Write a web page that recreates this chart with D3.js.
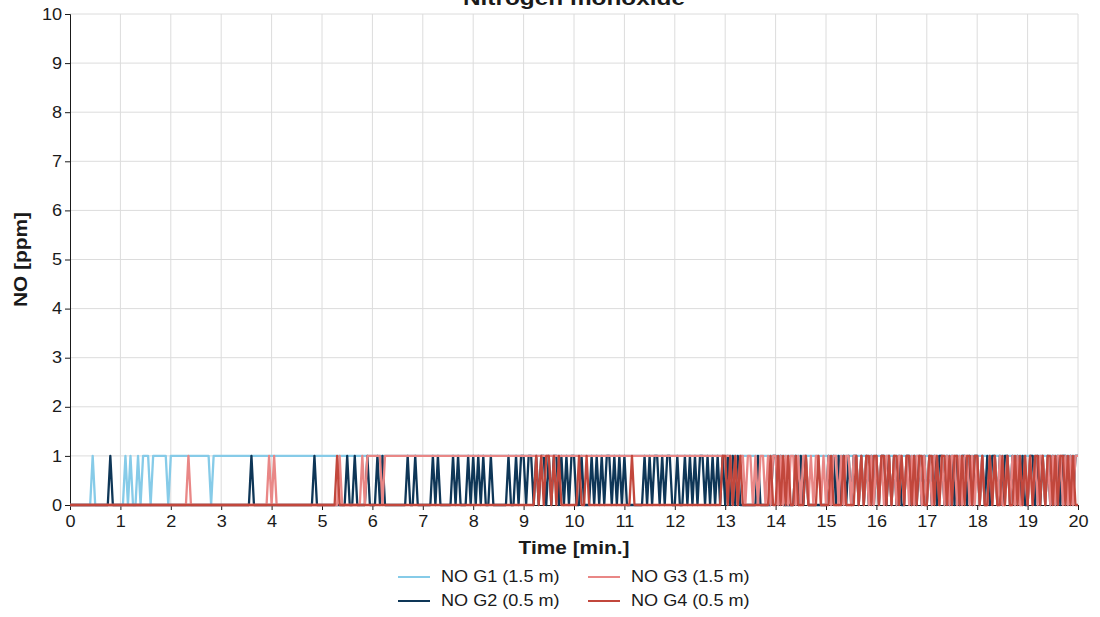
<!DOCTYPE html>
<html><head><meta charset="utf-8">
<script src="https://cdn.jsdelivr.net/npm/d3@7"></script>
<style>
body{margin:0;background:#fff;}
svg{display:block;font-family:"Liberation Sans",Arial,sans-serif;}
</style>
</head><body>
<svg id="chart" width="1100" height="617"></svg>
<script>
// ---- data ----
const chartTitle = "Nitrogen monoxide";
const xTitle = "Time [min.]";
const yTitle = "NO [ppm]";
const xTickValues = [0,1,2,3,4,5,6,7,8,9,10,11,12,13,14,15,16,17,18,19,20];
const yTickValues = [0,1,2,3,4,5,6,7,8,9,10];
const sampleStep = 0.05; // minutes between readings
const seriesNames = ["NO G1 (1.5 m)", "NO G2 (0.5 m)", "NO G3 (1.5 m)", "NO G4 (0.5 m)"];
const seriesColors = ["#86cbe8", "#0e3657", "#e98786", "#c2473c"];

// readings per minute (20 per minute), values in ppm
const noG1 = [
"00000000010000000000","00101001011101111110","11111111111111110111","11111111111111111111",
"11111111111111111111","11111111111111111111","11111111111111111111","11111111111111111111",
"11111111111111111111","11111111111111111111","11111111111111111111","11111111111111111111",
"11111111111111111111","11111111111111111111","11111111111111111111","11111111111111111111",
"11111111111111111111","11111111111111111111","11111111111111111111","111111111111111111111"];
const noG2 = [
"00000000000000001000","00000000000000000000","00000000000000000000","00000000000010000000",
"00000000000000000100","00000000001001000010","00101000000000100100","00001010000010100010",
"10101001000000100101","10110101101011010101","10010001010101101010","10000000101011010110",
"01001010101101010101","01010100000001000001","10100000101010000000","01010101010110101010",
"10110101010011010101","01010110101010110101","10101011010110101010","011010101010101101011"];
const noG3 = [
"00000000000000000000","00000000000000000000","00000001000000000000","00000000000000000001",
"01000000000000000000","00000001000000001011","11110111111111111111","11111111111111111111",
"11111111111111111111","11111111111111111111","11111111111111111111","11111111111111111111",
"11111111111111111111","11101011011010110101","10101011010110101101","01011010110110101010",
"10101101011010101101","01011010101101011010","10100101010010101001","010101101010110101011"];
const noG4 = [
"00000000000000000000","00000000000000000000","00000000000000000000","00000000000000000000",
"00000000000000000000","00000010000000000000","00000000000000000000","00000000000000000000",
"00000000000000000000","00000101011010100000","00100100000000000000","00010000000000000000",
"00000000000000000001","10101010000000000010","01010100100010000100","00100001000010101101",
"10110101101011010110","01101011010110101101","10100101001010010101","010110101101011010100"];

// ---- layout ----
const svg = d3.select("#chart");
const L = 70, R = 1078, T = 14, B = 505;
const x = d3.scaleLinear().domain([0, 20]).range([L, R]);
const y = d3.scaleLinear().domain([0, 10]).range([B, T]);
const stretchReg = 1.13, stretchBold = 1.16;

function stretch(sel, k) {
  sel.each(function () {
    const len = this.getComputedTextLength();
    this.setAttribute("textLength", len * k);
    this.setAttribute("lengthAdjust", "spacingAndGlyphs");
  });
}

// grid
const grid = svg.append("g").attr("stroke", "#dcdcdc").attr("stroke-width", 1);
grid.selectAll("line.v").data(xTickValues.filter(d => d > 0)).join("line")
  .attr("x1", d => x(d)).attr("x2", d => x(d)).attr("y1", T).attr("y2", B);
grid.selectAll("line.h").data(yTickValues.filter(d => d > 0)).join("line")
  .attr("x1", L).attr("x2", R).attr("y1", d => y(d)).attr("y2", d => y(d));

// axes
const ax = svg.append("g").attr("transform", `translate(${L},0)`)
  .call(d3.axisLeft(y).tickValues(yTickValues).tickSize(5).tickPadding(3).tickSizeOuter(5));
const bx = svg.append("g").attr("transform", `translate(0,${B})`)
  .call(d3.axisBottom(x).tickValues(xTickValues).tickSize(5).tickPadding(6).tickSizeOuter(5));
[ax, bx].forEach(g => {
  g.selectAll("path,line").attr("stroke", "#1a1a1a");
  g.selectAll("text").attr("font-size", 16).attr("fill", "#1a1a1a")
    .attr("font-family", '"Liberation Sans",Arial,sans-serif');
  stretch(g.selectAll("text"), stretchReg);
});

// series
const seriesData = [noG1, noG2, noG3, noG4].map(arr =>
  arr.join("").split("").map((c, i) => ({ t: i * sampleStep, v: +c })));
const line = d3.line().x(d => x(d.t)).y(d => y(d.v));
svg.append("g").selectAll("path").data(seriesData).join("path")
  .attr("d", line).attr("fill", "none")
  .attr("stroke", (d, i) => seriesColors[i]).attr("stroke-width", 2.3)
  .attr("stroke-linejoin", "round");

// titles
const tt = svg.append("text").attr("x", (L + R) / 2).attr("y", 5).attr("text-anchor", "middle")
  .attr("font-size", 21).attr("font-weight", "bold").attr("fill", "#1a1a1a").text(chartTitle);
stretch(tt, stretchBold);
const xt = svg.append("text").attr("x", (L + R) / 2).attr("y", 554).attr("text-anchor", "middle")
  .attr("font-size", 18).attr("font-weight", "bold").attr("fill", "#1a1a1a").text(xTitle);
stretch(xt, stretchBold);
const yt = svg.append("text").attr("transform", `translate(27,${(T + B) / 2}) rotate(-90)`)
  .attr("text-anchor", "middle")
  .attr("font-size", 18).attr("font-weight", "bold").attr("fill", "#1a1a1a").text(yTitle);
stretch(yt, stretchBold);

// legend
const legendPos = [[398, 577], [398, 601], [588, 577], [588, 601]];
const lg = svg.append("g").selectAll("g").data(seriesNames).join("g")
  .attr("transform", (d, i) => `translate(${legendPos[i][0]},${legendPos[i][1]})`);
lg.append("line").attr("x1", 0).attr("x2", 32).attr("y1", 0).attr("y2", 0)
  .attr("stroke", (d, i) => seriesColors[i]).attr("stroke-width", 2);
const lt = lg.append("text").attr("x", 43).attr("y", 5).attr("font-size", 16)
  .attr("fill", "#1a1a1a").text(d => d);
stretch(lt, stretchReg);
</script>
</body></html>
